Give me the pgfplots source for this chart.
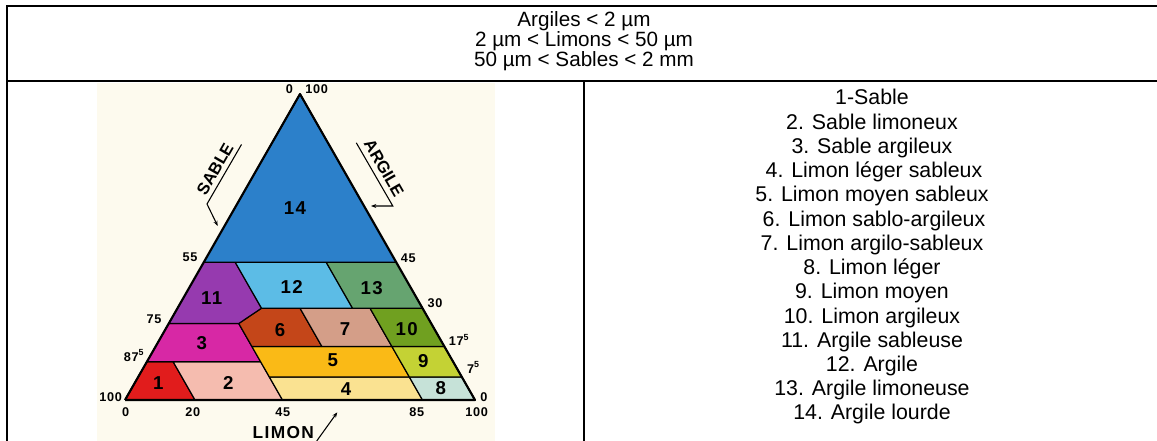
\documentclass[border=0pt]{standalone}
\usepackage{fontspec}
\setmainfont{Liberation Sans}
\usepackage{pgfplots}
\pgfplotsset{compat=1.18}
\usetikzlibrary{arrows.meta}
\definecolor{cream}{RGB}{253,250,238}
\definecolor{c1}{RGB}{225,28,28}
\definecolor{c2}{RGB}{245,188,175}
\definecolor{c3}{RGB}{215,40,165}
\definecolor{c4}{RGB}{250,226,145}
\definecolor{c5}{RGB}{250,186,22}
\definecolor{c6}{RGB}{196,70,25}
\definecolor{c7}{RGB}{212,158,136}
\definecolor{c8}{RGB}{198,226,216}
\definecolor{c9}{RGB}{196,210,52}
\definecolor{c10}{RGB}{112,160,32}
\definecolor{c11}{RGB}{150,58,175}
\definecolor{c12}{RGB}{92,188,230}
\definecolor{c13}{RGB}{102,164,112}
\definecolor{c14}{RGB}{44,128,202}
\pgfplotsset{tern/.style={fill=#1, draw=black, line width=0.9pt, line join=round}}
\begin{document}
\begin{tikzpicture}
\path[use as bounding box] (0pt,0pt) rectangle (867.75pt,-330.75pt);
\fill[white] (0pt,0pt) rectangle (867.75pt,-330.75pt);
\begin{scope}[x=0.75pt,y=-0.75pt]
\fill[cream] (97,83) rectangle (495,441);
\end{scope}
\begin{axis}[at={(93.75pt,-300pt)}, anchor=south west, x=2.625pt, y=2.65pt,
  xmin=0, xmax=100, ymin=0, ymax=86.6, hide axis, clip=false, no markers]
\addplot[tern=c1] table[row sep=\\, x expr=\thisrow{L}+0.5*\thisrow{A}, y expr=0.866*\thisrow{A}]
 {L A\\ 0 0\\ 20 0\\ 7.5 12.5\\ 0 12.5\\ 0 0\\};
\addplot[tern=c2] table[row sep=\\, x expr=\thisrow{L}+0.5*\thisrow{A}, y expr=0.866*\thisrow{A}]
 {L A\\ 20 0\\ 45 0\\ 32.5 12.5\\ 7.5 12.5\\ 20 0\\};
\addplot[tern=c3] table[row sep=\\, x expr=\thisrow{L}+0.5*\thisrow{A}, y expr=0.866*\thisrow{A}]
 {L A\\ 0 12.5\\ 32.5 12.5\\ 20 25\\ 0 25\\ 0 12.5\\};
\addplot[tern=c4] table[row sep=\\, x expr=\thisrow{L}+0.5*\thisrow{A}, y expr=0.866*\thisrow{A}]
 {L A\\ 45 0\\ 85 0\\ 77.5 7.5\\ 37.5 7.5\\ 45 0\\};
\addplot[tern=c5] table[row sep=\\, x expr=\thisrow{L}+0.5*\thisrow{A}, y expr=0.866*\thisrow{A}]
 {L A\\ 37.5 7.5\\ 77.5 7.5\\ 67.5 17.5\\ 27.5 17.5\\ 37.5 7.5\\};
\addplot[tern=c6] table[row sep=\\, x expr=\thisrow{L}+0.5*\thisrow{A}, y expr=0.866*\thisrow{A}]
 {L A\\ 27.5 17.5\\ 47.5 17.5\\ 35 30\\ 24 30\\ 20 25\\ 27.5 17.5\\};
\addplot[tern=c7] table[row sep=\\, x expr=\thisrow{L}+0.5*\thisrow{A}, y expr=0.866*\thisrow{A}]
 {L A\\ 47.5 17.5\\ 67.5 17.5\\ 55 30\\ 35 30\\ 47.5 17.5\\};
\addplot[tern=c8] table[row sep=\\, x expr=\thisrow{L}+0.5*\thisrow{A}, y expr=0.866*\thisrow{A}]
 {L A\\ 85 0\\ 100 0\\ 92.5 7.5\\ 77.5 7.5\\ 85 0\\};
\addplot[tern=c9] table[row sep=\\, x expr=\thisrow{L}+0.5*\thisrow{A}, y expr=0.866*\thisrow{A}]
 {L A\\ 77.5 7.5\\ 92.5 7.5\\ 82.5 17.5\\ 67.5 17.5\\ 77.5 7.5\\};
\addplot[tern=c10] table[row sep=\\, x expr=\thisrow{L}+0.5*\thisrow{A}, y expr=0.866*\thisrow{A}]
 {L A\\ 67.5 17.5\\ 82.5 17.5\\ 70 30\\ 55 30\\ 67.5 17.5\\};
\addplot[tern=c11] table[row sep=\\, x expr=\thisrow{L}+0.5*\thisrow{A}, y expr=0.866*\thisrow{A}]
 {L A\\ 0 25\\ 20 25\\ 24 30\\ 9 45\\ 0 45\\ 0 25\\};
\addplot[tern=c12] table[row sep=\\, x expr=\thisrow{L}+0.5*\thisrow{A}, y expr=0.866*\thisrow{A}]
 {L A\\ 24 30\\ 50 30\\ 35 45\\ 9 45\\ 24 30\\};
\addplot[tern=c13] table[row sep=\\, x expr=\thisrow{L}+0.5*\thisrow{A}, y expr=0.866*\thisrow{A}]
 {L A\\ 50 30\\ 70 30\\ 55 45\\ 35 45\\ 50 30\\};
\addplot[tern=c14] table[row sep=\\, x expr=\thisrow{L}+0.5*\thisrow{A}, y expr=0.866*\thisrow{A}]
 {L A\\ 0 45\\ 55 45\\ 0 100\\ 0 45\\};
\addplot[draw=black, line width=1.6pt, line join=round] table[row sep=\\, x expr=\thisrow{L}+0.5*\thisrow{A}, y expr=0.866*\thisrow{A}]
 {L A\\ 0 0\\ 100 0\\ 0 100\\ 0 0\\};
\end{axis}
\begin{scope}[x=0.75pt,y=-0.75pt]
% table lines
\draw[line width=1.4pt] (7,441) -- (7,6) -- (1157,6);
\draw[line width=1.4pt] (7,80.7) -- (1157,80.7);
\draw[line width=1.4pt] (584.3,80.7) -- (584.3,441);
% header
\begin{scope}[every node/.style={anchor=base, inner sep=0pt, font=\fontsize{15.5}{16}\selectfont}]
\node at (584,26.7) {Argiles < 2 µm};
\node at (584,46.7) {2 µm < Limons < 50 µm};
\node at (584,66.7) {50 µm < Sables < 2 mm};
\end{scope}
% legend column
\begin{scope}[every node/.style={anchor=base, inner sep=0pt, font=\fontsize{16}{16}\selectfont}]
\node at (872,105.0) {1-Sable};
\node at (872,129.2) {2. Sable limoneux};
\node at (872,153.5) {3. Sable argileux};
\node at (874,177.7) {4. Limon léger sableux};
\node at (872,201.9) {5. Limon moyen sableux};
\node at (874,226.2) {6. Limon sablo-argileux};
\node at (872,250.4) {7. Limon argilo-sableux};
\node at (872,274.6) {8. Limon léger};
\node at (872,298.8) {9. Limon moyen};
\node at (872,323.1) {10. Limon argileux};
\node at (872,347.3) {11. Argile sableuse};
\node at (872,371.5) {12. Argile};
\node at (872,395.8) {13. Argile limoneuse};
\node at (872,420.0) {14. Argile lourde};
\end{scope}
% region numbers
\begin{scope}[every node/.style={inner sep=0pt, font=\bfseries\fontsize{14}{14}\selectfont\addfontfeatures{LetterSpace=8}}]
\node at (295,208.3) {14};
\node at (211.7,298.3) {11};
\node at (291.7,286.7) {12};
\node at (371.7,288.3) {13};
\node at (280,330) {6};
\node at (345,329) {7};
\node at (406.7,329) {10};
\node at (201.7,343.3) {3};
\node at (332.7,360) {5};
\node at (423.3,361) {9};
\node at (158.3,383.3) {1};
\node at (228.3,383.3) {2};
\node at (346,389) {4};
\node at (440.7,388.3) {8};
\end{scope}
% tick labels
\begin{scope}[every node/.style={inner sep=0pt, font=\bfseries\fontsize{9.5}{10}\selectfont\addfontfeatures{LetterSpace=6}}]
\node at (289.3,89) {0};
\node at (316.7,89) {100};
\node at (190,257.7) {55};
\node at (154,319.3) {75};
\node at (134,355.5) {87\textsuperscript{5}};
\node at (110.7,396.7) {100};
\node at (125.7,412.3) {0};
\node at (192.7,412.3) {20};
\node at (282.7,412.3) {45};
\node at (416.7,412.3) {85};
\node at (476.7,412.3) {100};
\node at (408.3,258.3) {45};
\node at (435,303.3) {30};
\node at (459,340) {17\textsuperscript{5}};
\node at (473.5,367.5) {7\textsuperscript{5}};
\node at (484,396.7) {0};
\end{scope}
% axis names
\node[inner sep=0pt, rotate=60, font=\bfseries\fontsize{12.5}{12}\selectfont] at (215,169) {SABLE};
\node[inner sep=0pt, rotate=-60, font=\bfseries\fontsize{12.5}{12}\selectfont] at (384,168) {ARGILE};
\node[inner sep=0pt, anchor=base, font=\bfseries\fontsize{13}{13}\selectfont\addfontfeatures{LetterSpace=8}] at (283.3,438.5) {LIMON};
\draw[line width=0.8pt, -{Stealth[length=4pt,width=3pt]}] (241.5,144.5) -- (207,204) -- (217.7,226);
\draw[line width=0.8pt, -{Stealth[length=4pt,width=3pt]}] (356.3,142.8) -- (392.8,206) -- (371,206);
\draw[line width=0.8pt, -{Stealth[length=4pt,width=3pt]}] (316.7,441) -- (337.3,412.3);
\end{scope}
\end{tikzpicture}
\end{document}
